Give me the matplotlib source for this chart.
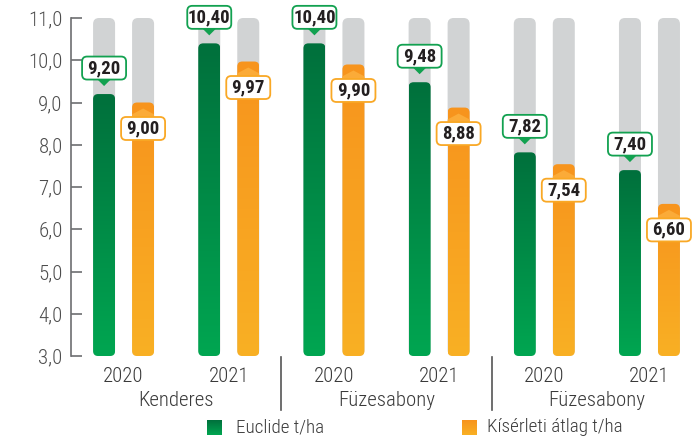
import numpy as np
import matplotlib
matplotlib.use("Agg")
import matplotlib.pyplot as plt
import matplotlib.transforms as mtransforms
from matplotlib import font_manager as fm
from matplotlib.lines import Line2D
from matplotlib.patches import FancyBboxPatch, Polygon
from matplotlib.colors import LinearSegmentedColormap

# ---- data -------------------------------------------------------------
years = ["2020", "2021", "2020", "2021", "2020", "2021"]
sites = ["Kenderes", "Füzesabony", "Füzesabony"]
euclide = [9.20, 10.40, 10.40, 9.48, 7.82, 7.40]
average = [9.00, 9.97, 9.90, 8.88, 7.54, 6.60]
series_names = ["Euclide t/ha", "Kísérleti átlag t/ha"]
yticks = [3, 4, 5, 6, 7, 8, 9, 10, 11]
ytick_labels = ["3,0", "4,0", "5,0", "6,0", "7,0", "8,0", "9,0", "10,0", "11,0"]


# ---- fonts: prefer a condensed sans face -------------------------------
def _is_condensed(f):
    tag = (f.name + " " + f.fname).lower()
    return ("condensed" in str(f.stretch).lower() or "condensed" in tag
            or "narrow" in tag)


def _weight(f):
    w = f.weight
    if isinstance(w, str):
        w = {"light": 300, "normal": 400, "regular": 400, "book": 400,
             "medium": 500, "semibold": 600, "bold": 700}.get(w.lower(), 400)
    return w


def pick_fonts():
    order = ["roboto", "liberation", "noto sans", "open sans", "dejavu sans"]
    cands = [f for f in fm.fontManager.ttflist
             if _is_condensed(f) and f.style == "normal"
             and not any(k in f.name.lower() for k in ("mono", "serif", "cjk"))]
    for key in order:
        fam = [f for f in cands if key in f.name.lower()]
        if not fam:
            continue
        reg = sorted(fam, key=lambda f: abs(_weight(f) - 400))[0]
        bold = sorted(fam, key=lambda f: abs(_weight(f) - 700))[0]
        light = sorted(fam, key=lambda f: abs(_weight(f) - 330))[0]
        return reg.fname, bold.fname, light.fname
    return None


picked = pick_fonts()
if picked:
    F_REG = dict(fname=picked[0])
    F_BOLD = dict(fname=picked[1])
    F_LIGHT = dict(fname=picked[2])
else:
    F_REG = dict(family="Roboto")
    F_BOLD = dict(family="Roboto", weight="bold")
    F_LIGHT = dict(family="Roboto", weight="light")


def fp(base, size):
    return fm.FontProperties(size=size, **base)


# ---- style ------------------------------------------------------------
GREEN_TOP, GREEN_BOT = "#00703c", "#00a651"
ORANGE_TOP, ORANGE_BOT = "#f7941d", "#f9b024"
GREEN_EDGE, ORANGE_EDGE = "#12a150", "#f9a825"
ORANGE_LIGHT = "#fbab38"
GREY = "#d1d3d4"
AXIS_C = "#6d6e71"
TEXT_C = "#3a3a3a"

FW, FH = 693, 438
fig = plt.figure(figsize=(FW / 100, FH / 100), dpi=100)
AX_L, AX_R, AX_T, AX_B = 71, 693, 18, 356
ax = fig.add_axes([AX_L / FW, (FH - AX_B) / FH, (AX_R - AX_L) / FW, (AX_B - AX_T) / FH])
x_lo, x_hi = -0.5, 5.414
y_lo, y_hi = 3.0, 11.0
ax.set_xlim(x_lo, x_hi)
ax.set_ylim(y_lo, y_hi)

ppx = (AX_R - AX_L) / (x_hi - x_lo)
ppy = (AX_B - AX_T) / (y_hi - y_lo)


def px_x(p):
    return p / ppx


def px_y(p):
    return p / ppy


ASPECT = ppx / ppy


def rounded(axis, x0, y0, w, h, r, aspect, **kw):
    p = FancyBboxPatch((x0, y0), w, h,
                       boxstyle=f"round,pad=0,rounding_size={r}",
                       mutation_aspect=aspect, **kw)
    axis.add_patch(p)
    return p


def gradient(axis, patch, extent, c_top, c_bot, z):
    cmap = LinearSegmentedColormap.from_list("g", [c_bot, c_top])
    grad = np.linspace(0, 1, 128).reshape(-1, 1)
    im = axis.imshow(grad, cmap=cmap, extent=extent, origin="lower",
                     aspect="auto", zorder=z, interpolation="bilinear")
    im.set_clip_path(patch)
    return im


def fmt(v):
    return f"{v:.2f}".replace(".", ",")


BAR_W = px_x(22)
OFF = px_x(19.5)
x = np.arange(len(years))

for i in x:
    for xc, val, kind in ((i - OFF, euclide[i], "g"), (i + OFF, average[i], "o")):
        # grey track
        rounded(ax, xc - BAR_W / 2, y_lo, BAR_W, y_hi - y_lo, px_x(6), ASPECT,
                fc=GREY, ec="none", zorder=1)
        # value bar with vertical gradient
        bar = rounded(ax, xc - BAR_W / 2, y_lo, BAR_W, val - y_lo, px_x(5), ASPECT,
                      fc="none", ec="none", zorder=2)
        top_c, bot_c = (GREEN_TOP, GREEN_BOT) if kind == "g" else (ORANGE_TOP, ORANGE_BOT)
        gradient(ax, bar, (xc - BAR_W / 2, xc + BAR_W / 2, y_lo, val), top_c, bot_c, 2)

        bw, bh = px_x(44), px_y(23)
        if kind == "g":
            cy = val + px_y(26)
            edge = GREEN_EDGE
            tri = Polygon([(xc - px_x(7), cy - bh / 2 + px_y(0.5)),
                           (xc + px_x(7), cy - bh / 2 + px_y(0.5)),
                           (xc, cy - bh / 2 - px_y(6.5))],
                          closed=True, fc=GREEN_EDGE, ec="none", zorder=4, clip_on=False)
            ax.add_patch(tri)
        else:
            cy = val - px_y(26)
            edge = ORANGE_EDGE
            tri = Polygon([(xc - px_x(16), cy + bh / 2),
                           (xc + px_x(16), cy + bh / 2),
                           (xc, val - px_y(6))],
                          closed=True, fc=ORANGE_LIGHT, ec="none", zorder=3)
            ax.add_patch(tri)
            tri.set_clip_path(bar)
        rounded(ax, xc - bw / 2, cy - bh / 2, bw, bh, px_x(5), ASPECT,
                fc="white", ec=edge, lw=1.3, zorder=5, clip_on=False)
        ax.text(xc, cy, fmt(val), ha="center", va="center",
                fontproperties=fp(F_BOLD, 13.5), color="#231f20", zorder=6,
                clip_on=False)

# ---- axes -------------------------------------------------------------
for s in ("top", "right", "bottom"):
    ax.spines[s].set_visible(False)
ax.spines["left"].set_color(AXIS_C)
ax.spines["left"].set_linewidth(1.2)
ax.set_xticks([])
ax.set_yticks(yticks)
ax.set_yticklabels(ytick_labels, fontproperties=fp(F_LIGHT, 15))
ax.tick_params(axis="y", direction="in", length=8, width=1.2, color=AXIS_C,
               pad=6, labelcolor="#4d4d4d")
ax.set_facecolor("none")

# ---- category labels under the axis ------------------------------------
bt = mtransforms.blended_transform_factory(ax.transData, fig.transFigure)
for i, yr in enumerate(years):
    fig.text(i, 1 - 376 / FH, yr, transform=bt, ha="center", va="center",
             fontproperties=fp(F_LIGHT, 15), color=TEXT_C)
for j, site in enumerate(sites):
    fig.text(2 * j + 0.5, 1 - 401 / FH, site, transform=bt, ha="center",
             va="center", fontproperties=fp(F_LIGHT, 15), color=TEXT_C)
for xs in (1.5, 3.5):
    fig.add_artist(Line2D([xs, xs], [1 - 357 / FH, 1 - 410 / FH],
                          transform=bt, color="#555555", lw=1.2))

# ---- legend (pixel-space overlay) --------------------------------------
lay = fig.add_axes([0, 0, 1, 1], zorder=-1)
lay.set_xlim(0, FW)
lay.set_ylim(FH, 0)
lay.axis("off")
lay.patch.set_alpha(0)
for (sx, tx, name, ct, cb) in ((207, 236, series_names[0], GREEN_TOP, GREEN_BOT),
                               (462, 487, series_names[1], ORANGE_TOP, ORANGE_BOT)):
    sq = rounded(lay, sx, 420, 15, 15, 2.5, -1.0, fc="none", ec="none")
    gradient(lay, sq, (sx, sx + 15, 435, 420), ct, cb, 1)
    lay.text(tx, 427.5, name, ha="left", va="center",
             fontproperties=fp(F_LIGHT, 13.8), color=TEXT_C)

fig.savefig("out.png", dpi=100)
